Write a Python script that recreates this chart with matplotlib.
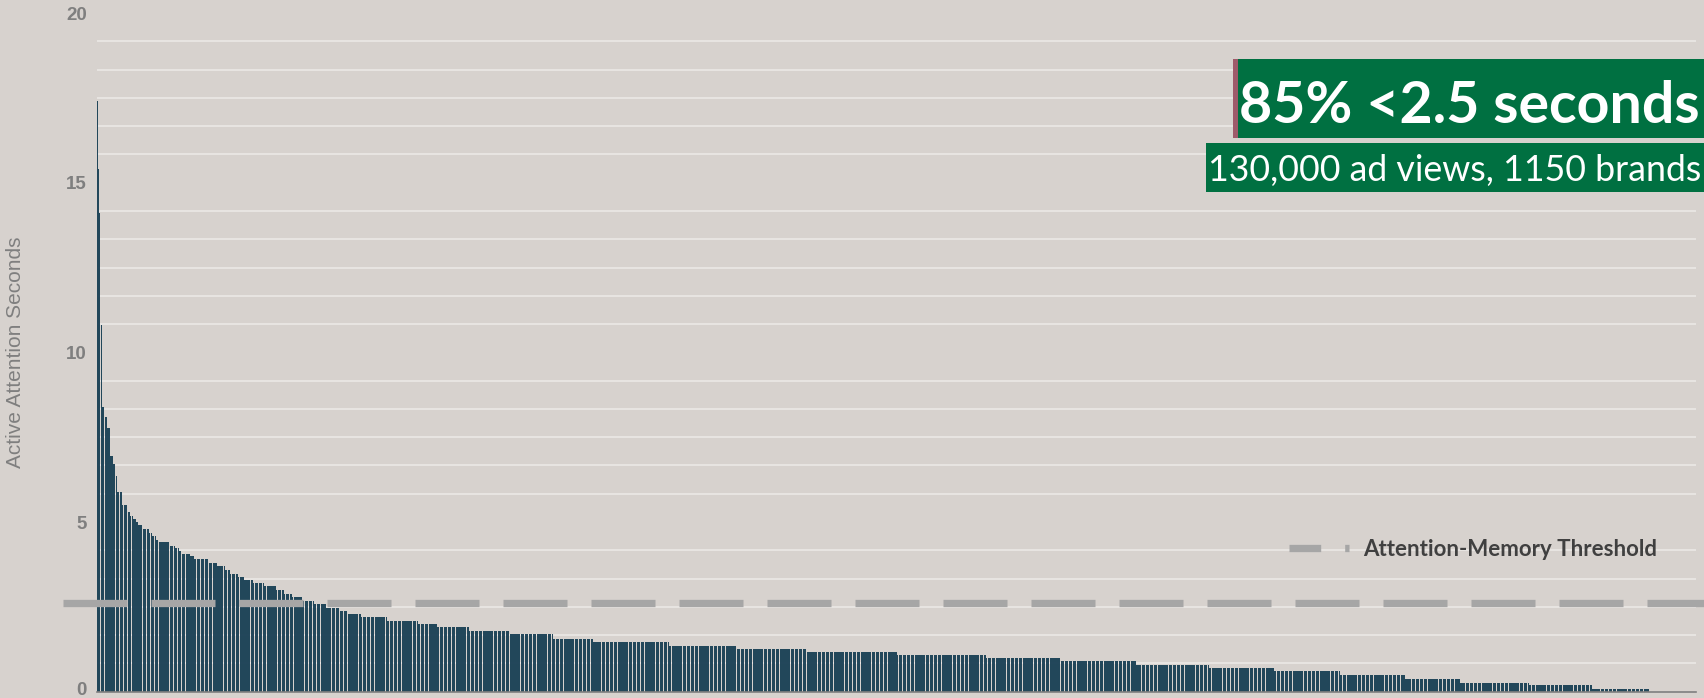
import numpy as np
import matplotlib
matplotlib.use("Agg")
import matplotlib.pyplot as plt
from matplotlib.lines import Line2D
from matplotlib.patches import Rectangle
from matplotlib.ticker import MultipleLocator
from matplotlib.transforms import ScaledTranslation

# Active attention per brand, sorted high to low, as runs of equal value
step_values = [17.4, 15.4, 14.1, 10.8,
               8.38, 8.09, 7.77, 6.96, 6.72, 6.37,
               5.88, 5.49,
               5.29, 5.17, 5.10, 5.00, 4.90, 4.80,
               4.68, 4.58, 4.48, 4.40,
               4.28, 4.22, 4.14, 4.07, 3.99,
               3.90, 3.79, 3.70, 3.58, 3.48,
               3.38, 3.30, 3.21, 3.11, 3.01,
               2.89, 2.79, 2.68, 2.58, 2.48,
               2.38, 2.28, 2.21, 2.09, 1.99, 1.90,
               1.78, 1.70, 1.56, 1.47, 1.36,
               1.26, 1.18, 1.08, 0.98, 0.89,
               0.80, 0.70, 0.60, 0.49, 0.38,
               0.27, 0.20, 0.08]
step_counts = [1, 1, 1, 1,
               2, 2, 2, 2, 2, 1,
               4, 4,
               2, 2, 2, 2, 3, 5,
               2, 3, 2, 8,
               4, 3, 2, 6, 3,
               11, 6, 6, 4, 6,
               4, 7, 8, 9, 6,
               6, 7, 9, 9, 10,
               6, 10, 19, 23, 14, 24,
               30, 32, 30, 56, 50,
               52, 67, 66, 55, 56,
               54, 48, 49, 48, 41,
               51, 47, 42]

threshold = 2.6
y_ticks = [0, 5, 10, 15, 20]
y_label = "Active Attention Seconds"
headline = "85% <2.5 seconds"
subline = "130,000 ad views, 1150 brands"
legend_label = "Attention-Memory Threshold"

seconds = np.repeat(step_values, step_counts)
brands = np.arange(len(seconds))

W, H, DPI = 1704, 698, 100
PT = 72 / DPI  # points per pixel
plt.rcParams['lines.scale_dashes'] = False

BG = '#d7d2ce'
GRID = '#ebe8e5'
BAR = '#183f54'
DASH = '#a6a6a6'
GREEN = '#007041'

fig = plt.figure(figsize=(W / DPI, H / DPI), dpi=DPI, facecolor=BG)
renderer = fig.canvas.get_renderer()


def frac_rect(x0, y0, x1, y1):
    """Pixel box (top-left origin) -> figure-fraction [l, b, w, h]."""
    return [x0 / W, 1 - y1 / H, (x1 - x0) / W, (y1 - y0) / H]


def fit_size(s, target_px, **kw):
    t = fig.text(0, 0, s, fontsize=20, **kw)
    w = t.get_window_extent(renderer).width
    t.remove()
    return 20 * target_px / w


ax_l, ax_r, ax_t, ax_b = 96.5, 1696.0, 13.0, 691.7
bars_r = 1649.0
ax = fig.add_axes(frac_rect(ax_l, ax_t, ax_r, ax_b))
ax.set_facecolor(BG)

ax.bar(brands, seconds, width=0.82, color=BAR, linewidth=0, alpha=0.95,
       zorder=2)

n = len(seconds)
ax.set_xlim(-0.5, -0.5 + n * (ax_r - ax_l) / (bars_r - ax_l))
ax.set_ylim(y_ticks[0], y_ticks[-1])

ax.yaxis.set_major_locator(MultipleLocator(5))
ax.yaxis.set_minor_locator(MultipleLocator(5 / 6))
ax.set_yticks(y_ticks)
ax.set_xticks([])
ax.grid(which='minor', axis='y', color=GRID, linewidth=1.2)
ax.grid(which='major', visible=False)
ax.set_axisbelow(True)
ax.tick_params(axis='y', which='both', length=0, pad=7.0, labelsize=13.5,
               labelcolor='#7f7f7f')
for lab in ax.get_yticklabels():
    lab.set_fontweight('bold')
    lab.set_family('Liberation Sans')

# lift the bottom tick label a touch so it stays inside the canvas
zero_label = ax.yaxis.get_major_ticks()[0].label1
zero_label.set_transform(zero_label.get_transform()
                         + ScaledTranslation(0, 3 / DPI, fig.dpi_scale_trans))

for side in ('top', 'right', 'left'):
    ax.spines[side].set_visible(False)
ax.spines['bottom'].set_color('#7f7f7f')
ax.spines['bottom'].set_linewidth(1.2)
ax.spines['bottom'].set_zorder(4)

ax.set_ylabel(y_label, family='Liberation Sans', fontsize=15, color='#7f7f7f',
              va='center')
ax.yaxis.set_label_coords((16 - ax_l) / (ax_r - ax_l), 0.5)

# Threshold line, running out past the axes on both sides
dash_on, dash_off, dash_lw = 64 * PT, 24 * PT, 7.3 * PT
ax.plot([(63.3 - ax_l) / (ax_r - ax_l), (W - ax_l) / (ax_r - ax_l)],
        [threshold, threshold], transform=ax.get_yaxis_transform(),
        color=DASH, linewidth=dash_lw, linestyle=(0, (dash_on, dash_off)),
        dash_capstyle='butt', clip_on=False, zorder=3)

# Legend for the threshold
leg_fs = fit_size(legend_label, 293, family='Lato', weight='bold')
leg_px = leg_fs / PT
handle = Line2D([], [], color=DASH, linewidth=dash_lw,
                linestyle=(32.3 * PT, (dash_on, dash_off)), dash_capstyle='butt')
leg = ax.legend([handle], [legend_label], loc='center left',
                bbox_to_anchor=(1289 / W, 1 - 549.5 / H),
                bbox_transform=fig.transFigure, frameon=False,
                borderpad=0, borderaxespad=0,
                handlelength=59.7 / leg_px, handletextpad=14.6 / leg_px,
                prop=dict(family='Lato', weight='bold', size=leg_fs))
for t in leg.get_texts():
    t.set_color('#404040')

# Headline boxes
fig.add_artist(Rectangle(frac_rect(1233.3, 59.3, W, 137.7)[:2],
                         (W - 1233.3) / W, (137.7 - 59.3) / H,
                         transform=fig.transFigure, facecolor=GREEN,
                         edgecolor='none'))
fig.add_artist(Rectangle(frac_rect(1233.3, 59.3, 1237.7, 137.7)[:2],
                         4.4 / W, (137.7 - 59.3) / H,
                         transform=fig.transFigure, facecolor='#9e5a6a',
                         edgecolor='none'))
fig.add_artist(Rectangle(frac_rect(1206, 143.3, W, 191.7)[:2],
                         (W - 1206) / W, (191.7 - 143.3) / H,
                         transform=fig.transFigure, facecolor=GREEN,
                         edgecolor='none'))

hs = fit_size(headline, 461, family='Lato', weight='bold')
fig.text(1239 / W, 1 - 123.3 / H, headline, ha='left', va='baseline',
         color='white', family='Lato', weight='bold', fontsize=hs)
ss = fit_size(subline, 494, family='Lato')
fig.text(1207.5 / W, 1 - 180.7 / H, subline, ha='left', va='baseline',
         color='white', family='Lato', fontsize=ss)

fig.savefig('out.png', dpi=DPI, facecolor=BG)
